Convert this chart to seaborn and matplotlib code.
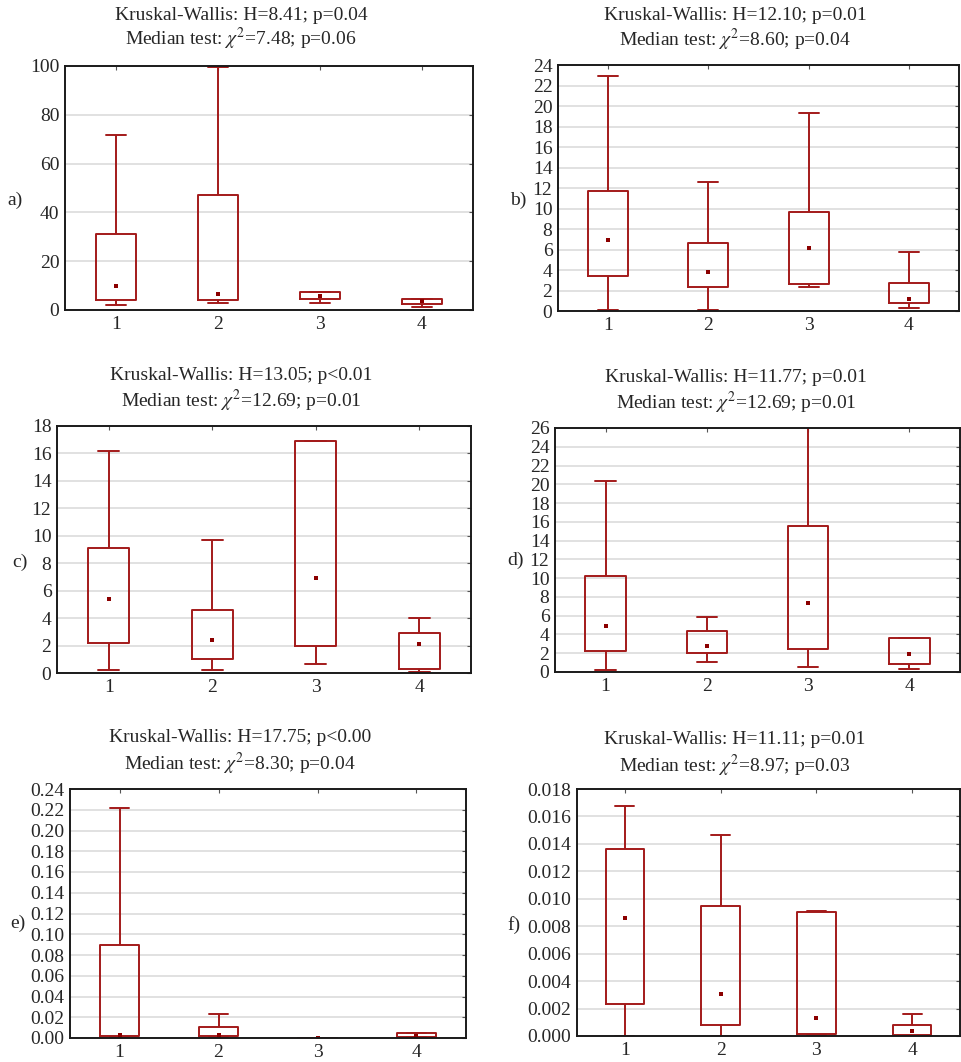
import numpy as np
import pandas as pd
import seaborn as sns
import matplotlib.pyplot as plt

# Grupos
groups = ['1', '2', '3', '4']

# Estadisticos: minimo, Q1, mediana, Q3, maximo
a_min = [2.0, 2.7, 2.7, 1.4]
a_q1 = [4.1, 4.0, 4.6, 2.6]
a_med = [9.8, 6.4, 5.7, 3.7]
a_q3 = [31.0, 47.3, 7.4, 4.6]
a_max = [71.6, 99.6, 7.4, 4.7]

b_min = [0.13, 0.13, 2.3, 0.33]
b_q1 = [3.4, 2.3, 2.6, 0.8]
b_med = [6.9, 3.8, 6.1, 1.2]
b_q3 = [11.7, 6.6, 9.7, 2.7]
b_max = [22.9, 12.6, 19.3, 5.8]

c_min = [0.22, 0.22, 0.68, 0.07]
c_q1 = [2.2, 1.04, 2.0, 0.32]
c_med = [5.4, 2.4, 6.9, 2.1]
c_q3 = [9.1, 4.6, 16.9, 2.9]
c_max = [16.2, 9.7, 16.9, 4.0]

d_min = [0.18, 1.03, 0.53, 0.36]
d_q1 = [2.2, 2.0, 2.4, 0.85]
d_med = [4.9, 2.8, 7.4, 1.95]
d_q3 = [10.2, 4.4, 15.6, 3.6]
d_max = [20.4, 5.9, 26.2, 3.6]

e_min = [0.001, 0.001, 0.0, 0.0005]
e_q1 = [0.0016, 0.0016, 0.0, 0.001]
e_med = [0.0026, 0.0029, 0.0, 0.002]
e_q3 = [0.0901, 0.0106, 0.0, 0.0045]
e_max = [0.2217, 0.0228, 0.0, 0.0045]

f_min = [0.0, 0.0, 0.00007, 0.0]
f_q1 = [0.00236, 0.0008, 0.00012, 0.00007]
f_med = [0.0086, 0.00308, 0.00129, 0.00039]
f_q3 = [0.01363, 0.00945, 0.00901, 0.0008]
f_max = [0.01678, 0.01465, 0.00911, 0.00158]

panels = [
    ('a)', a_min, a_q1, a_med, a_q3, a_max, 100, 20, '%d',
     'Kruskal-Wallis: H=8.41; p=0.04', r'Median test: $\chi^2$=7.48; p=0.06'),
    ('b)', b_min, b_q1, b_med, b_q3, b_max, 24, 2, '%d',
     'Kruskal-Wallis: H=12.10; p=0.01', r'Median test: $\chi^2$=8.60; p=0.04'),
    ('c)', c_min, c_q1, c_med, c_q3, c_max, 18, 2, '%d',
     'Kruskal-Wallis: H=13.05; p<0.01', r'Median test: $\chi^2$=12.69; p=0.01'),
    ('d)', d_min, d_q1, d_med, d_q3, d_max, 26, 2, '%d',
     'Kruskal-Wallis: H=11.77; p=0.01', r'Median test: $\chi^2$=12.69; p=0.01'),
    ('e)', e_min, e_q1, e_med, e_q3, e_max, 0.24, 0.02, '%.2f',
     'Kruskal-Wallis: H=17.75; p<0.00', r'Median test: $\chi^2$=8.30; p=0.04'),
    ('f)', f_min, f_q1, f_med, f_q3, f_max, 0.018, 0.002, '%.3f',
     'Kruskal-Wallis: H=11.11; p=0.01', r'Median test: $\chi^2$=8.97; p=0.03'),
]

# posiciones de los ejes en pixeles (izq, der, arriba, abajo)
W, H = 962, 1062
boxes_px = [(65, 473, 66, 310), (558, 959, 65, 311),
            (57, 471, 426, 673), (555, 960, 428, 672),
            (70, 466, 789, 1038), (577, 960, 789, 1036)]
title_px = [(241, 15, 39), (735, 15, 40), (241, 376, 401),
            (736, 378, 403), (240, 738, 764), (735, 739, 766)]
label_px = [(7, 200), (510, 200), (12, 562), (507, 560), (10, 923), (507, 925)]

sns.set_style('white')
plt.rcParams['font.family'] = ['Liberation Serif', 'DejaVu Serif']
plt.rcParams['mathtext.fontset'] = 'stix'

red = '#a31a1a'
fs = 14

fig = plt.figure(figsize=(W / 100, H / 100), dpi=100)

for i, (lab, mn, q1, med, q3, mx, ymax, step, fmt, t1, t2) in enumerate(panels):
    l, r, t, b = boxes_px[i]
    ax = fig.add_axes([l / W, 1 - b / H, (r - l) / W, (b - t) / H])

    # cinco valores por grupo -> cuartiles exactos
    rows = []
    for g, v in zip(groups, zip(mn, q1, med, q3, mx)):
        for val in v:
            rows.append({'grupo': g, 'valor': val})
    df = pd.DataFrame(rows)

    sns.boxplot(data=df, x='grupo', y='valor', order=groups, ax=ax,
                whis=(0, 100), fill=False, color=red, linewidth=1.4,
                width=0.4, showfliers=False,
                medianprops={'visible': False})
    med_df = pd.DataFrame({'grupo': groups, 'mediana': med})
    sns.stripplot(data=med_df, x='grupo', y='mediana', order=groups, ax=ax,
                  jitter=False, marker='s', size=2.6, color='#8b0000',
                  linewidth=0, zorder=2.2)

    ax.set_xlim(-0.5, 3.5)
    ax.set_ylim(0, ymax)
    ax.set_yticks(np.arange(0, ymax + step / 2, step))
    ax.set_yticklabels([fmt % v for v in np.arange(0, ymax + step / 2, step)])
    ax.set_xlabel('')
    ax.set_ylabel('')
    ax.yaxis.grid(True, color='#dcdcdc', linewidth=1.2)
    ax.set_axisbelow(True)
    for sp in ax.spines.values():
        sp.set_visible(True)
        sp.set_color('#1a1a1a')
        sp.set_linewidth(1.4)
        sp.set_zorder(3)
    ax.tick_params(axis='both', direction='in', length=3, width=0.8,
                   top=True, right=True, labelsize=fs, pad=4,
                   color='#555555')

    cx, y1, y2 = title_px[i]
    fig.text(cx / W, 1 - y1 / H, t1, ha='center', va='center', fontsize=fs)
    fig.text(cx / W, 1 - y2 / H, t2, ha='center', va='center', fontsize=fs)
    lx, ly = label_px[i]
    fig.text(lx / W, 1 - ly / H, lab, ha='left', va='center', fontsize=fs)

fig.savefig('out.png', dpi=100)
